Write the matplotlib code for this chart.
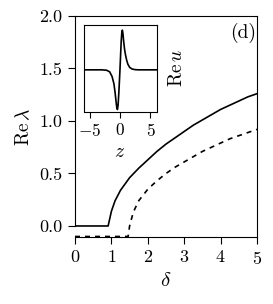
import matplotlib
matplotlib.use("Agg")
import matplotlib.pyplot as plt
import numpy as np

plt.rcParams['font.family'] = 'serif'
plt.rcParams['font.serif'] = ['cmr10']
plt.rcParams['mathtext.fontset'] = 'cm'
plt.rcParams['axes.formatter.use_mathtext'] = True

# main panel: growth rate vs delta
delta_solid = [0, 0.91, 1.0, 1.1, 1.25, 1.5, 1.75, 2.0, 2.25, 2.5, 2.75, 3.0, 3.25, 3.5, 3.75, 4.0, 4.25, 4.5, 4.75, 5.0]
re_lam_solid = [0, 0, 0.14, 0.24, 0.34, 0.46, 0.55, 0.63, 0.71, 0.78, 0.84, 0.90, 0.96, 1.01, 1.06, 1.11, 1.15, 1.19, 1.23, 1.26]

delta_dashed = [0, 1.46, 1.5, 1.6, 1.75, 2.0, 2.25, 2.5, 2.75, 3.0, 3.25, 3.5, 3.75, 4.0, 4.25, 4.5, 4.75, 5.0]
re_lam_dashed = [-0.1, -0.1, 0.0, 0.13, 0.24, 0.35, 0.43, 0.50, 0.56, 0.61, 0.66, 0.71, 0.75, 0.79, 0.83, 0.86, 0.89, 0.92]

# inset: mode profile
z = [-6, -3, -2.2, -1.7, -1.3, -1.0, -0.8, -0.65, -0.52, -0.42, -0.32, -0.2, -0.1, 0, 0.1, 0.2, 0.3, 0.39, 0.48, 0.6, 0.75, 0.9, 1.1, 1.3, 1.6, 2.0, 2.5, 3, 6]
re_u = [0, 0, -0.01, -0.05, -0.17, -0.35, -0.58, -0.8, -0.96, -1.0, -0.9, -0.6, -0.3, 0.02, 0.38, 0.72, 0.95, 1.0, 0.92, 0.72, 0.52, 0.38, 0.24, 0.14, 0.06, 0.02, 0.005, 0, 0]

fig = plt.figure(figsize=(2.73, 3.04), dpi=100)
ax = fig.add_axes([75 / 273, 1 - 237 / 304, 182 / 273, 221 / 304])
ax.plot(delta_solid, re_lam_solid, color='black', lw=1.2, solid_joinstyle='round')
ax.plot(delta_dashed, re_lam_dashed, color='black', lw=1.2, ls=(0, (3, 3)))
ax.set_xlim(0, 5)
ax.set_ylim(-0.105, 2.0)
ax.set_xticks([0, 1, 2, 3, 4, 5])
ax.set_yticks([0.0, 0.5, 1.0, 1.5, 2.0])
ax.set_yticklabels(['0.0', '0.5', '1.0', '1.5', '2.0'])
ax.spines['left'].set_bounds(0, 2)
ax.tick_params(direction='out', length=5, width=0.8, labelsize=13, pad=4)
for s in ax.spines.values():
    s.set_linewidth(0.8)
ax.set_xlabel(r'$\delta$', fontsize=15, labelpad=4)
ax.set_ylabel(r'$\mathrm{Re}\,\lambda$', fontsize=14, labelpad=4)
ax.text(0.995, 0.97, '(d)', transform=ax.transAxes, ha='right', va='top', fontsize=14)

ins = fig.add_axes([83.5 / 273, 1 - 111.5 / 304, 73 / 273, 86.5 / 304])
ins.plot(z, re_u, color='black', lw=1.2)
ins.set_xlim(-6, 6)
ins.set_ylim(-1.05, 1.13)
ins.set_xticks([-5, 0, 5])
ins.set_yticks([])
ins.tick_params(direction='out', length=4.5, width=0.8, labelsize=12.5, pad=3)
for s in ins.spines.values():
    s.set_linewidth(0.8)
ins.set_xlabel(r'$z$', fontsize=14, labelpad=3)
ins.yaxis.set_label_position('right')
ins.set_ylabel(r'$\mathrm{Re}\,u$', fontsize=14, labelpad=8)

fig.savefig('out.png', dpi=100)
